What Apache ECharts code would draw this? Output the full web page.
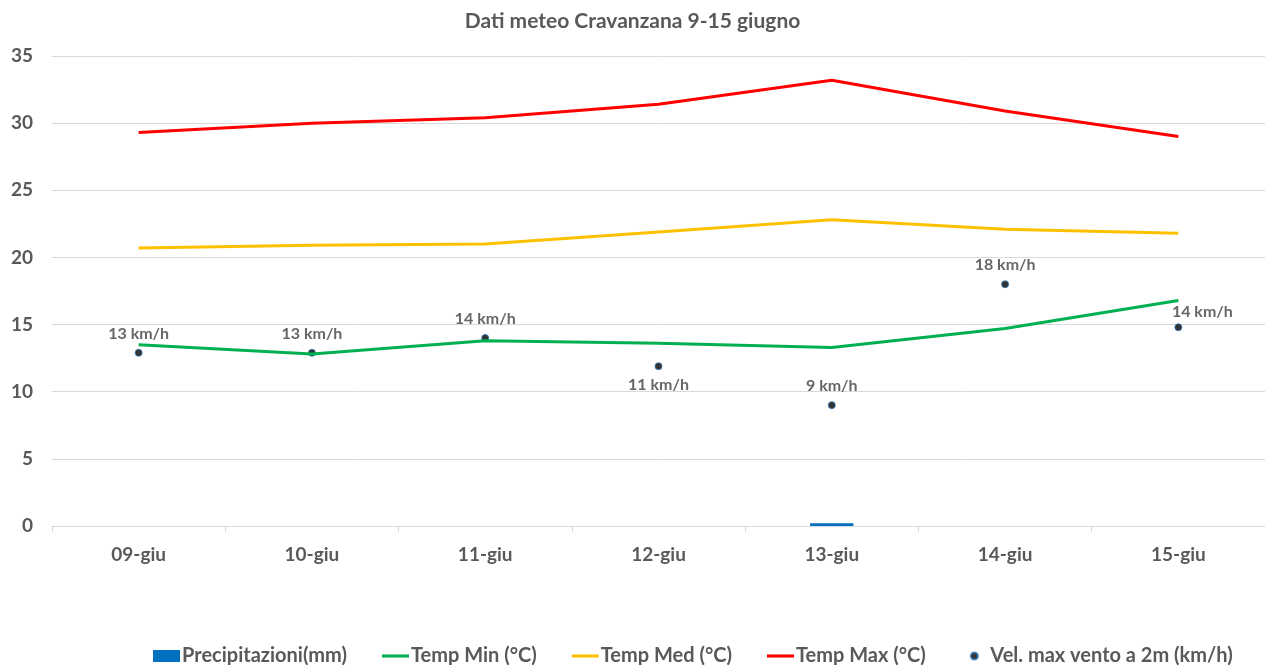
<!DOCTYPE html>
<html>
<head>
<meta charset="utf-8">
<script src="https://cdn.jsdelivr.net/npm/echarts@6/dist/echarts.min.js"></script>
<style>
  html, body { margin: 0; padding: 0; background: #fff; }
  #chart { width: 1265px; height: 665px; }
</style>
</head>
<body>
<div id="chart"></div>
<script>
// dati
const giorni = ['09-giu', '10-giu', '11-giu', '12-giu', '13-giu', '14-giu', '15-giu']
const precipitazioni = [0, 0, 0, 0, 0.2, 0, 0]
const tempMin = [13.5, 12.8, 13.8, 13.6, 13.3, 14.7, 16.8]
const tempMed = [20.7, 20.9, 21.0, 21.9, 22.8, 22.1, 21.8]
const tempMax = [29.3, 30.0, 30.4, 31.4, 33.2, 30.9, 29.0]
const vento = [12.9, 12.9, 14.0, 11.9, 9.0, 18.0, 14.8]
const ventoEtichette = ['13 km/h', '13 km/h', '14 km/h', '11 km/h', '9 km/h', '18 km/h', '14 km/h']
const ventoPosizioni = ['top', 'top', 'top', 'bottom', 'top', 'top', 'top']
const ventoSpostamenti = [[0, 0], [0, 0], [0, 0], [0, 0], [0, 0], [0, 0], [24, 4]]

const font = 'Lato, "Open Sans", sans-serif'
const grigio = '#595959'

const chart = echarts.init(document.getElementById('chart'))

chart.setOption({
  animation: false,
  textStyle: { fontFamily: font },
  title: {
    text: 'Dati meteo Cravanzana 9-15 giugno',
    left: 'center',
    top: 6,
    textStyle: { fontFamily: font, fontSize: 21, fontWeight: 'bold', color: grigio },
  },
  grid: { left: 52, right: -1, top: 56, bottom: 139 },
  legend: {
    top: 641,
    left: 148,
    itemGap: 35,
    itemWidth: 27,
    itemHeight: 12,
    textStyle: { fontFamily: font, fontSize: 20, fontWeight: 'bold', color: grigio, padding: [0, 0, 0, -3] },
    data: [
      { name: 'Precipitazioni(mm)', icon: 'rect' },
      { name: 'Temp Min (°C)', icon: 'path://M0,0H26V3H0Z' },
      { name: 'Temp Med (°C)', icon: 'path://M0,0H26V3H0Z' },
      { name: 'Temp Max (°C)', icon: 'path://M0,0H26V3H0Z' },
      { name: 'Vel. max vento a 2m (km/h)', icon: 'path://M0,0M26,12M9,6a3.5,3.5 0 1 0 7,0a3.5,3.5 0 1 0 -7,0Z' },
    ],
  },
  xAxis: {
    type: 'category',
    data: giorni,
    axisLine: { lineStyle: { color: '#d9d9d9', width: 1 } },
    axisTick: { show: true, length: 6, lineStyle: { color: '#d9d9d9' } },
    axisLabel: { fontFamily: font, fontSize: 19, fontWeight: 'bold', color: grigio, margin: 19 },
  },
  yAxis: {
    type: 'value',
    min: 0,
    max: 35,
    interval: 5,
    axisLine: { show: false },
    axisTick: { show: false },
    splitLine: { lineStyle: { color: '#d9d9d9', width: 1 } },
    axisLabel: { fontFamily: font, fontSize: 19, fontWeight: 'bold', color: grigio, margin: 19 },
  },
  series: [
    {
      name: 'Precipitazioni(mm)',
      type: 'bar',
      data: precipitazioni,
      barWidth: '25%',
      itemStyle: { color: '#0070c0' },
    },
    {
      name: 'Temp Min (°C)',
      type: 'line',
      data: tempMin,
      symbol: 'none',
      lineStyle: { color: '#00b050', width: 3 },
      itemStyle: { color: '#00b050' },
    },
    {
      name: 'Temp Med (°C)',
      type: 'line',
      data: tempMed,
      symbol: 'none',
      lineStyle: { color: '#ffc000', width: 3 },
      itemStyle: { color: '#ffc000' },
    },
    {
      name: 'Temp Max (°C)',
      type: 'line',
      data: tempMax,
      symbol: 'none',
      lineStyle: { color: '#ff0000', width: 3 },
      itemStyle: { color: '#ff0000' },
    },
    {
      name: 'Vel. max vento a 2m (km/h)',
      type: 'scatter',
      symbolSize: 7,
      itemStyle: { color: '#000', borderColor: '#2e75b6', borderWidth: 1 },
      data: vento.map((v, i) => ({
        value: v,
        label: { position: ventoPosizioni[i], offset: ventoSpostamenti[i], formatter: ventoEtichette[i] },
      })),
      label: {
        show: true,
        distance: 7,
        fontFamily: font,
        fontSize: 16,
        fontWeight: 'bold',
        color: '#404040',
      },
    },
  ],
})
</script>
</body>
</html>
